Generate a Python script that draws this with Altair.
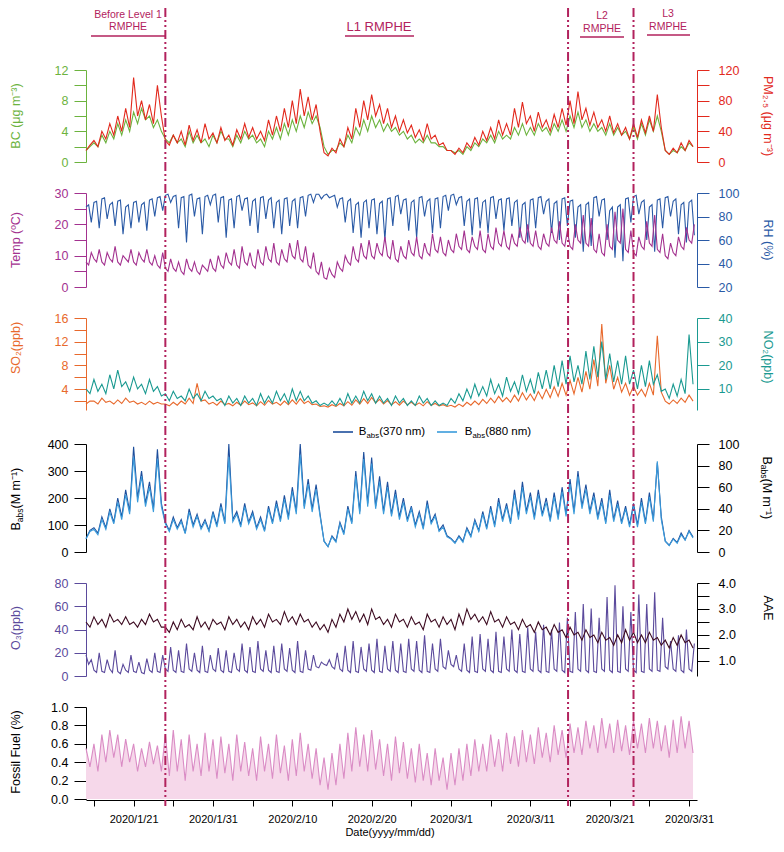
import altair as alt
import pandas as pd

# ---------------- data ----------------
# two readings per day (00:00, 12:00) from 2020-01-15
TIMES = pd.date_range("2020-01-15", periods=154, freq="12h").strftime("%Y-%m-%dT%H:%M:%S").tolist()
# three readings per day (00:00, 08:00, 16:00) for the series with a strong daily cycle
TIMES3 = pd.date_range("2020-01-15", periods=231, freq="8h").strftime("%Y-%m-%dT%H:%M:%S").tolist()

BC = [1.5,2.0, 2.5,2.0, 3.5,2.5, 4.0,3.0, 5.0,3.5, 5.5,4.0, 6.5,5.0, 7.0,5.5, 6.0,4.5, 5.5,4.0,
      3.0,2.5, 3.5,2.5, 3.0,2.0, 4.0,2.5, 3.5,2.5, 3.0,2.0, 3.5,2.5, 4.0,3.0, 3.0,2.0, 3.5,2.5,
      4.0,3.0, 3.5,2.5, 3.0,2.0, 4.0,3.0, 4.5,3.0, 5.0,3.5, 5.5,4.0, 6.0,4.5, 6.5,5.0, 6.0,4.5,
      2.0,1.0, 1.5,1.5, 2.5,2.0, 3.5,2.5, 4.5,3.5, 5.5,4.0, 6.0,4.5, 5.5,4.0, 5.0,4.0, 4.5,3.5,
      4.0,3.0, 3.5,2.5, 3.0,2.5, 3.5,2.5, 2.5,2.0, 2.0,1.5, 1.5,1.2, 1.5,1.0, 2.0,1.5, 2.5,2.0,
      3.0,2.5, 3.5,2.5, 4.0,3.0, 3.5,3.0, 4.5,3.5, 5.0,3.5, 4.5,3.5, 5.0,4.0, 4.5,3.5, 5.0,4.0,
      5.5,4.0, 6.0,4.5, 6.5,4.5, 5.5,4.0, 5.0,4.0, 4.5,3.5, 5.0,3.5, 4.5,3.5, 4.0,3.0, 4.5,3.0,
      5.0,3.5, 5.5,4.0, 6.0,4.0, 1.5,1.0, 1.5,1.2, 2.0,1.5, 2.5,2.0]

PM25 = [15,22, 28,20, 40,30, 50,35, 60,40, 70,45, 110,60, 80,55, 75,50, 100,60,
        28,22, 35,25, 40,22, 48,28, 42,25, 50,30, 38,25, 45,28, 35,22, 42,30,
        50,32, 45,30, 40,28, 55,35, 60,40, 70,45, 80,50, 95,60, 85,55, 75,40,
        12,8, 18,12, 30,20, 45,30, 70,45, 80,55, 88,60, 75,50, 70,45, 60,40,
        55,38, 48,32, 42,28, 50,30, 35,22, 25,15, 15,10, 18,12, 25,18, 32,22,
        40,28, 45,30, 55,35, 50,35, 70,45, 78,50, 60,40, 65,45, 55,40, 62,45,
        70,48, 80,50, 92,55, 70,48, 65,45, 55,40, 60,38, 50,35, 45,30, 50,32,
        55,38, 60,40, 88,45, 15,10, 18,12, 25,15, 28,20]

TEMP = [8,7,11, 9,8,12, 8,7,11, 9,8,13, 8,7,10, 9,8,12, 8,7,11, 9,8,12, 8,7,10, 7,6,11,
        6,5,9, 6,5,8, 5,4,9, 6,5,8, 5,4,7, 6,5,9, 6,5,10, 7,6,11, 8,7,12, 7,6,13,
        8,7,11, 7,6,12, 8,7,13, 9,8,14, 8,7,12, 9,8,14, 10,9,15, 9,8,13, 7,6,11, 5,4,8,
        3,2.5,6, 4,3,8, 6,5,10, 8,7,13, 9,8,14, 10,9,15, 10,9,14, 11,10,16, 10,9,15, 9,8,13,
        10,9,15, 11,10,16, 10,9,14, 11,10,17, 12,11,16, 11,10,15, 12,11,17, 13,12,18, 12,11,16, 13,12,18,
        12,11,17, 13,12,19, 14,13,18, 13,12,17, 14,13,19, 15,14,20, 14,13,18, 13,12,17, 14,13,19, 15,14,21,
        14,13,18, 13,12,20, 15,14,23, 14,13,22, 12,11,17, 11,10,20, 13,12,24, 15,14,25, 12,11,18, 11,10,16,
        13,12,21, 14,13,23, 12,11,17, 10,9,14, 11,10,16, 13,12,19, 15,14,20]

RH = [88,90,75, 92,93,70, 95,96,78, 90,92,72, 93,94,65, 88,90,70, 92,93,75, 90,92,68, 94,95,80, 96,97,85,
      98,99,92, 97,98,70, 96,97,58, 98,99,80, 95,96,65, 97,98,90, 98,99,75, 96,97,62, 94,95,70, 97,98,85,
      95,96,72, 93,95,66, 96,97,78, 94,96,70, 92,94,65, 95,96,72, 93,95,70, 96,97,80, 98,99,92, 99,99,95,
      98,99,96, 97,98,88, 95,96,75, 93,95,66, 90,92,62, 92,94,70, 94,95,65, 91,93,60, 95,96,72, 97,98,82,
      94,95,68, 92,94,62, 96,97,80, 93,95,66, 95,96,70, 97,98,85, 98,99,90, 96,97,72, 93,95,64, 95,96,70,
      92,94,66, 96,97,78, 94,95,68, 95,96,72, 92,94,62, 90,92,58, 94,95,70, 96,97,82, 93,95,66, 91,93,60,
      95,96,72, 93,94,62, 88,90,50, 90,92,55, 96,97,80, 94,95,60, 85,88,45, 88,90,42, 95,96,75, 97,98,82,
      92,94,60, 88,90,50, 94,95,70, 96,97,80, 93,95,65, 90,92,58, 92,94,64]

SO2 = [1.5,2.0, 2.0,1.5, 2.5,1.8, 2.0,1.5, 2.2,1.6, 2.5,1.8, 2.0,1.5, 1.8,1.4, 2.0,1.5, 1.8,1.5,
       1.5,1.2, 1.8,1.3, 2.0,1.5, 2.5,1.6, 5.0,2.0, 2.2,1.5, 1.8,1.3, 2.0,1.4, 1.6,1.2, 1.8,1.3,
       2.0,1.4, 1.7,1.2, 1.9,1.3, 2.1,1.5, 1.8,1.3, 2.0,1.4, 2.2,1.5, 2.4,1.6, 2.0,1.4, 1.5,1.1,
       1.2,1.0, 1.4,1.1, 1.6,1.2, 1.9,1.3, 2.2,1.5, 2.4,1.6, 2.6,1.7, 2.3,1.5, 2.1,1.4, 1.9,1.3,
       2.0,1.4, 1.8,1.3, 1.7,1.2, 1.9,1.3, 1.6,1.2, 1.4,1.1, 1.3,1.0, 1.5,1.1, 1.8,1.3, 2.0,1.4,
       2.3,1.6, 2.5,1.7, 2.8,1.9, 2.6,1.8, 3.0,2.0, 3.4,2.2, 3.2,2.1, 3.6,2.4, 4.0,2.6, 4.4,2.8,
       5.0,3.0, 5.5,3.2, 6.0,3.5, 7.0,4.0, 9.0,4.5, 15.0,5.0, 8.0,4.0, 6.0,3.5, 5.0,3.0, 4.5,3.0,
       4.0,2.8, 5.0,3.0, 13.0,3.5, 2.0,1.5, 2.2,1.6, 2.5,1.8, 3.0,2.0]

NO2 = [10,8, 14,9, 12,8, 16,10, 18,11, 13,9, 15,10, 12,8, 14,9, 11,7,
       8,5, 9,6, 7,5, 10,6, 8,5, 9,6, 7,5, 6,3, 7,4, 6,3,
       7,4, 6,3, 8,4, 7,4, 9,5, 8,4, 10,5, 9,5, 7,4, 5,3,
       4,3, 5,3, 6,3, 8,4, 7,4, 9,5, 8,4, 7,4, 6,3, 7,4,
       6,3, 5,3, 7,4, 6,3, 5,3, 4,3, 6,4, 8,5, 10,6, 12,7,
       11,7, 14,8, 12,7, 15,9, 13,8, 16,9, 14,8, 17,10, 18,10, 20,11,
       22,12, 24,13, 20,12, 26,14, 28,15, 30,14, 25,13, 22,12, 24,12, 18,10,
       20,11, 22,12, 16,9, 10,6, 12,7, 14,8, 33,12]

BABS370 = [50,80, 90,70, 130,90, 160,110, 200,130, 230,150, 390,200, 300,180, 260,160, 380,180,
           110,80, 130,90, 120,70, 160,100, 140,90, 120,80, 150,100, 180,110, 400,120, 150,100,
           180,110, 150,90, 130,80, 170,110, 190,120, 210,130, 240,150, 400,170, 270,160, 250,140,
           40,20, 60,40, 110,70, 170,110, 300,150, 370,180, 350,170, 280,150, 260,140, 230,130,
           200,120, 170,100, 150,90, 190,110, 140,80, 100,60, 50,35, 60,40, 90,60, 120,80,
           150,90, 170,100, 200,120, 180,110, 230,130, 260,150, 220,130, 230,140, 200,120, 220,130,
           240,140, 270,150, 300,170, 250,150, 220,130, 200,110, 230,120, 190,110, 170,100, 180,100,
           200,110, 220,120, 330,130, 40,25, 50,35, 70,45, 80,55]

BABS880 = [12,19, 21,16, 30,21, 37,26, 46,30, 53,35, 88,46, 70,42, 60,37, 86,42,
           26,19, 30,21, 28,17, 37,23, 33,21, 28,19, 35,23, 42,26, 88,28, 35,23,
           42,26, 35,21, 30,19, 40,26, 44,28, 49,30, 56,35, 90,40, 63,37, 58,33,
           10,5, 14,9, 26,16, 40,26, 70,35, 86,42, 82,40, 65,35, 60,33, 53,30,
           46,28, 40,23, 35,21, 44,26, 33,19, 23,14, 12,8, 14,9, 21,14, 28,19,
           35,21, 40,23, 46,28, 42,26, 53,30, 60,35, 51,30, 53,33, 46,28, 51,30,
           56,33, 63,35, 70,40, 58,35, 51,30, 46,26, 53,28, 44,26, 40,23, 42,23,
           46,26, 51,28, 84,30, 10,6, 12,8, 16,11, 19,13]

O3 = [18,10,14, 5,3,20, 4,3,14, 6,3,22, 4,2,10, 5,3,18, 4,3,12, 3,2,15, 5,3,20, 4,3,18,
      6,4,25, 5,3,22, 4,3,28, 6,4,20, 5,3,26, 4,3,18, 6,4,24, 5,3,22, 4,3,20, 6,4,28,
      5,3,25, 4,3,30, 6,4,22, 5,3,26, 4,3,28, 6,4,24, 5,3,30, 4,3,22, 6,5,18, 8,7,12,
      10,9,14, 8,6,20, 6,4,26, 5,3,30, 4,3,25, 6,4,28, 5,3,32, 4,3,26, 6,4,30, 5,3,28,
      4,3,32, 6,4,30, 5,3,35, 4,3,28, 6,4,32, 8,6,22, 10,8,18, 6,4,28, 5,3,34, 4,3,36,
      6,4,32, 5,3,38, 4,3,34, 6,4,40, 5,3,36, 4,3,42, 6,4,38, 5,3,44, 4,3,40, 6,4,46,
      5,3,50, 4,3,55, 6,4,62, 5,3,58, 4,3,50, 6,4,68, 5,3,78, 4,3,60, 6,4,55, 5,3,70,
      4,3,62, 6,4,72, 5,4,50, 8,6,30, 6,4,35, 5,3,40, 6,4,28]

AAE = [2.5,2.3, 2.7,2.4, 2.6,2.3, 2.8,2.5, 2.6,2.4, 2.7,2.4, 2.5,2.3, 2.6,2.4, 2.8,2.5, 2.6,2.3,
       2.3,2.1, 2.5,2.2, 2.6,2.3, 2.4,2.2, 2.7,2.3, 2.5,2.2, 2.6,2.4, 2.5,2.2, 2.7,2.4, 2.6,2.3,
       2.5,2.2, 2.7,2.4, 2.6,2.3, 2.8,2.5, 2.6,2.4, 2.9,2.5, 2.7,2.4, 2.8,2.5, 2.6,2.3, 2.5,2.2,
       2.4,2.1, 2.6,2.3, 2.8,2.5, 3.0,2.6, 2.9,2.5, 2.8,2.4, 3.0,2.6, 2.7,2.4, 2.6,2.3, 2.8,2.5,
       2.6,2.3, 2.7,2.4, 2.5,2.2, 2.8,2.5, 2.6,2.3, 2.7,2.4, 2.6,2.2, 2.8,2.4, 3.0,2.6, 2.8,2.5,
       2.7,2.4, 2.9,2.5, 2.6,2.3, 2.7,2.4, 2.5,2.2, 2.6,2.3, 2.4,2.1, 2.5,2.2, 2.3,2.0, 2.4,2.1,
       2.2,1.9, 2.3,2.0, 2.1,1.8, 2.2,1.9, 2.0,1.7, 2.1,1.8, 1.9,1.6, 2.0,1.7, 2.2,1.8, 2.1,1.7,
       2.0,1.7, 2.1,1.8, 1.9,1.6, 1.8,1.5, 1.9,1.6, 2.0,1.7, 1.8,1.5]

FOSSIL = [0.55,0.35, 0.6,0.3, 0.7,0.4, 0.75,0.45, 0.7,0.35, 0.65,0.4, 0.6,0.3, 0.55,0.35, 0.62,0.38, 0.58,0.3,
          0.7,0.25, 0.75,0.3, 0.65,0.2, 0.7,0.3, 0.6,0.25, 0.72,0.3, 0.65,0.22, 0.68,0.28, 0.6,0.2, 0.7,0.3,
          0.62,0.25, 0.55,0.2, 0.68,0.3, 0.6,0.22, 0.7,0.28, 0.58,0.2, 0.65,0.25, 0.72,0.3, 0.6,0.22, 0.55,0.15,
          0.45,0.1, 0.5,0.15, 0.6,0.22, 0.72,0.3, 0.78,0.35, 0.7,0.3, 0.75,0.32, 0.65,0.25, 0.6,0.2, 0.68,0.28,
          0.62,0.22, 0.55,0.18, 0.6,0.2, 0.5,0.15, 0.55,0.2, 0.45,0.1, 0.5,0.15, 0.55,0.2, 0.6,0.25, 0.65,0.3,
          0.6,0.3, 0.7,0.35, 0.65,0.3, 0.72,0.38, 0.68,0.35, 0.75,0.4, 0.7,0.38, 0.78,0.45, 0.72,0.4, 0.8,0.48,
          0.75,0.45, 0.82,0.5, 0.78,0.48, 0.85,0.55, 0.8,0.5, 0.88,0.55, 0.82,0.5, 0.86,0.52, 0.8,0.48, 0.85,0.55,
          0.82,0.5, 0.88,0.55, 0.85,0.52, 0.8,0.45, 0.86,0.5, 0.9,0.55, 0.85,0.5]

LEVEL_CHANGES = ["2020-01-25T00:00:00", "2020-03-15T18:00:00", "2020-03-24T00:00:00"]
X_TICKS = pd.date_range("2020-01-16", "2020-03-31", freq="5D")

# ---------------- layout helpers ----------------
FONT = "Liberation Sans"
W, H = 611, 792
OX, OY = 86, 8          # page position of the plot-area origin
SVG_W, SVG_H = 768, 832


def rng(top, bottom):
    return [bottom - OY, top - OY]


GREEN = "#6cb33e"; RED = "#e2291d"; PURPLE = "#a3318f"; BLUE = "#2a5aa6"
ORANGE = "#e8692c"; TEAL = "#1a9a91"; DBLUE = "#1d4e9c"; LBLUE = "#3a9bdb"
O3C = "#5b4a9c"; AAEC = "#3d0b21"; FFL = "#da8cc5"; FFA = "#f6d8ea"; MAG = "#b2225d"

XSCALE = alt.Scale(domain=[alt.DateTime(year=2020, month=1, date=15),
                           alt.DateTime(year=2020, month=4, date=1)])
XAXIS = alt.Axis(
    title=None, grid=False, orient="bottom",
    values=[alt.DateTime(year=d.year, month=d.month, date=d.day) for d in X_TICKS],
    format="%Y/%-m/%-d",
    labelExpr="(round((datum.value - datetime(2020,0,21)) / 86400000) % 10 == 0) ? datum.label : ''",
    labelFont=FONT, labelFontSize=11, labelColor="black", labelPadding=7,
    tickSize=6, tickColor="black", domainColor="black", labelOverlap=False)
X = alt.X("t:T", scale=XSCALE, axis=XAXIS)


def yaxis(orient, values, label_mod, color, fmt="d"):
    kw = {}
    if label_mod is not None:
        kw["labelExpr"] = f"(abs(datum.value % {label_mod}) < 1e-6) ? datum.label : ''"
    return alt.Axis(
        orient=orient, values=values, format=fmt, title=None, grid=False,
        labelFont=FONT, labelFontSize=12.5, labelColor=color,
        labelPadding=6 if orient == "left" else 9,
        tickSize=12, tickColor=color, domainColor=color, labelOverlap=False, **kw)


def series(values, color, domain, yr, orient, ticks, mod, fmt="d", axis_color=None, sw=1.1,
           times=None):
    df = pd.DataFrame({"t": times or TIMES, "v": values})
    return alt.Chart(df).mark_line(color=color, strokeWidth=sw).encode(
        x=X,
        y=alt.Y("v:Q", scale=alt.Scale(domain=domain, range=yr, nice=False, zero=False),
                axis=yaxis(orient, ticks, mod, axis_color or color, fmt)))


ONE = pd.DataFrame({"t": [""]})


def txt(s, x, y, size=12.5, color="black", angle=0, align="center", baseline="middle"):
    return alt.Chart(pd.DataFrame({"s": [s]})).mark_text(
        font=FONT, fontSize=size, color=color, angle=angle, align=align, baseline=baseline
    ).encode(text="s:N", x=alt.value(x - OX), y=alt.value(y - OY))


def hline(x1, x2, y, color=MAG, w=1.6):
    return alt.Chart(ONE).mark_rule(color=color, strokeWidth=w).encode(
        x=alt.value(x1 - OX), x2=alt.value(x2 - OX), y=alt.value(y - OY))


CW = {"B": .667, "a": .556, "b": .556, "s": .5, " ": .278, "(": .333, ")": .333, "M": .833,
      "m": .833, "n": .556, "⁻": .36, "¹": .36}


def tw(s, size):
    return sum(CW.get(c, .556) for c in s) * size


def babs_text(cx, cy, angle, tail, size=12.5):
    """'B' + subscript 'abs' + tail, laid out piecewise."""
    pieces = [("B", size, 0), ("abs", size * 0.68, 1), (tail, size, 0)]
    total = sum(tw(p, s) for p, s, _ in pieces)
    out = []
    pos = 0.0
    for p, s, sub in pieces:
        if angle == 0:
            out.append(txt(p, cx - total / 2 + pos, cy + 3.5 * sub, s, "black", 0, "left"))
        elif angle == 270:
            out.append(txt(p, cx + 3.5 * sub, cy + total / 2 - pos, s, "black", 270, "left"))
        else:
            out.append(txt(p, cx - 3.5 * sub, cy - total / 2 + pos, s, "black", 90, "left"))
        pos += tw(p, s)
    return out


# ---------------- panels ----------------
p1 = [series(BC, GREEN, [0, 12], rng(70, 162), "left", list(range(0, 13, 2)), 4),
      series(PM25, RED, [0, 120], rng(70, 162), "right", list(range(0, 121, 20)), 40)]
p2 = [series(RH, BLUE, [20, 100], rng(193, 287), "right", [20, 40, 60, 80, 100], 20, times=TIMES3),
      series(TEMP, PURPLE, [0, 30], rng(193, 287), "left", [0, 5, 10, 15, 20, 25, 30], 10, times=TIMES3)]
p3 = [series(SO2, ORANGE, [0.5, 16], rng(318, 410), "left", [2, 4, 6, 8, 10, 12, 14, 16], 4),
      series(NO2, TEAL, [1.1, 40], rng(318, 410), "right", [10, 20, 30, 40], 10)]
p4 = [series(BABS370, DBLUE, [0, 400], rng(444, 552), "left", [0, 100, 200, 300, 400], 100, axis_color="black"),
      series(BABS880, LBLUE, [0, 100], rng(444, 552), "right", [0, 20, 40, 60, 80, 100], 20, axis_color="black")]
p5 = [series(O3, O3C, [0, 80], rng(583, 676), "left", [0, 20, 40, 60, 80], 20, times=TIMES3),
      series(AAE, AAEC, [0.42, 4.0], rng(583, 676), "right", [1.0, 1.5, 2.0, 2.5, 3.0, 3.5, 4.0], 1,
             fmt=".1f", axis_color="black")]

ff_df = pd.DataFrame({"t": TIMES, "v": FOSSIL})
ff_y = alt.Y("v:Q", scale=alt.Scale(domain=[0, 1], range=rng(707, 799), nice=False, zero=False),
             axis=yaxis("left", [0, 0.2, 0.4, 0.6, 0.8, 1.0], None, "black", ".1f"))
p6 = alt.layer(
    alt.Chart(ff_df).mark_area(color=FFA, opacity=1).encode(x=X, y=ff_y),
    alt.Chart(ff_df).mark_line(color=FFL, strokeWidth=1.1).encode(x=X, y=ff_y),
)

vlines = alt.Chart(pd.DataFrame({"d": LEVEL_CHANGES})).mark_rule(
    color=MAG, strokeWidth=2, strokeDash=[9, 3, 2, 3, 2, 3]
).encode(x=alt.X("d:T", scale=XSCALE, axis=XAXIS), y=alt.value(0), y2=alt.value(H + 6))

# legend in the B_abs panel
legend = [hline(333, 353, 432, DBLUE, 1.6), hline(437, 457, 432, LBLUE, 1.6)]
legend += babs_text(392, 432, 0, "(370 nm)", 11.5)
legend += babs_text(498, 432, 0, "(880 nm)", 11.5)

titles = [
    txt("BC (μg m⁻³)", 16, 116, color=GREEN, angle=270),
    txt("PM₂.₅ (μg m⁻³)", 768, 116, color=RED, angle=90),
    txt("Temp (ºC)", 16, 240, color=PURPLE, angle=270),
    txt("RH (%)", 768, 240, color=BLUE, angle=90),
    txt("SO₂(ppb)", 16, 348, color=ORANGE, angle=270),
    txt("NO₂(ppb)", 768, 357, color=TEAL, angle=90),
    txt("O₃(ppb)", 16, 628, color=O3C, angle=270),
    txt("AAE", 768, 608, angle=90),
    txt("Fossil Fuel (%)", 16, 752, angle=270),
    txt("Date(yyyy/mm/dd)", 390, 833, size=11),
]
titles += babs_text(16, 497, 270, " (M m⁻¹)")
titles += babs_text(767, 490, 90, " (M m⁻¹)")

header = [
    txt("Before Level 1", 128, 15, size=10.5, color=MAG),
    txt("RMPHE", 128, 27, size=10.5, color=MAG),
    hline(91, 166, 36),
    txt("L1 RMPHE", 379, 27, size=13, color=MAG),
    hline(345, 414, 36),
    txt("L2", 602, 16, size=10.5, color=MAG),
    txt("RMPHE", 602, 29, size=10.5, color=MAG),
    hline(580, 624, 37),
    txt("L3", 668, 14, size=10.5, color=MAG),
    txt("RMPHE", 668, 27, size=10.5, color=MAG),
    hline(647, 690, 35),
]

chart = alt.layer(
    *p1, *p2, *p3, *p4, *p5, p6, vlines, *legend, *titles, *header
).resolve_scale(y="independent").properties(
    width=W, height=H, autosize=alt.AutoSizeParams(type="none"),
    padding={"left": OX - 8, "top": OY - 8, "right": SVG_W - (OX - 8) - W,
             "bottom": SVG_H - (OY - 8) - H},
    background="white",
).configure_view(stroke=None)

chart.save("out.html", embed_options={"renderer": "svg", "actions": False})
